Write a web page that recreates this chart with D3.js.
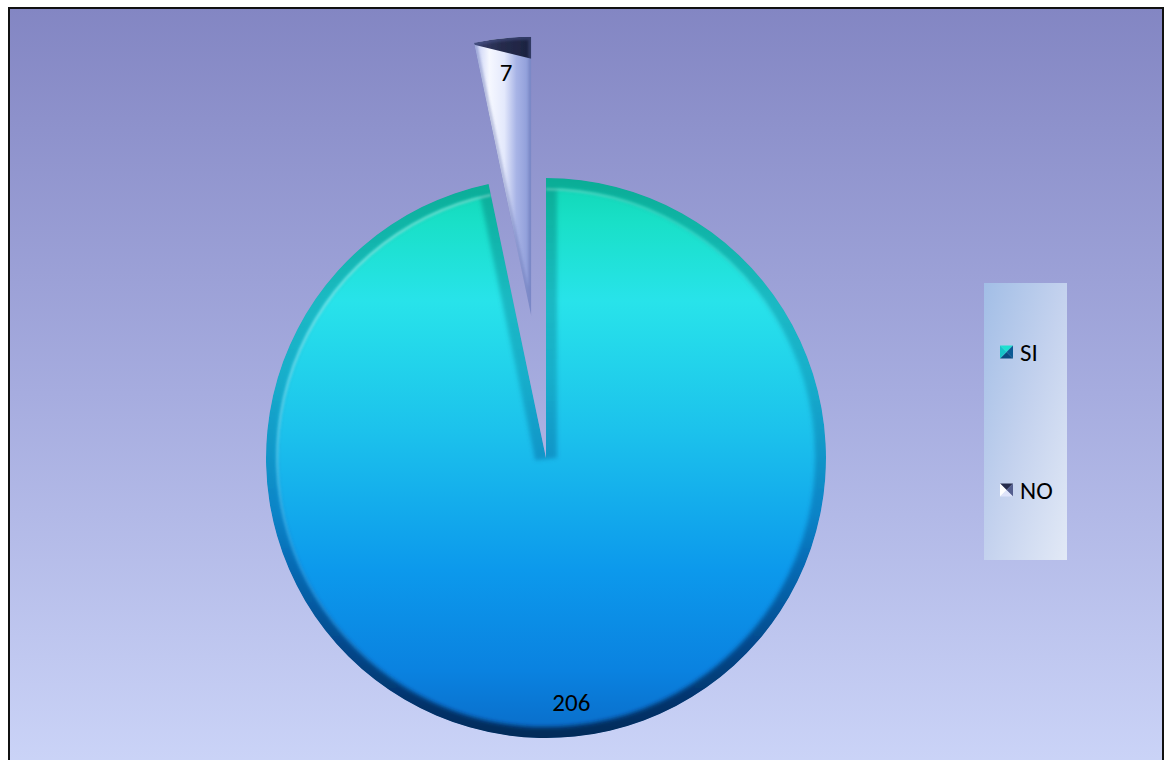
<!DOCTYPE html>
<html>
<head>
<meta charset="utf-8">
<script src="https://cdn.jsdelivr.net/npm/d3@7"></script>
<style>
  html, body { margin: 0; padding: 0; background: #ffffff; }
  svg { display: block; }
</style>
</head>
<body>
<script>
// Survey answers
const categories = ["SI", "NO"];
const values = [206, 7];
const explodedCategory = "NO";

const W = 1169, H = 760;
const cx = 546, cy = 458, R = 280, explodeDist = 142, bevel = 11;
const fontFamily = "Carlito, Lato, 'Open Sans', sans-serif";

const svg = d3.select("body").append("svg")
  .attr("width", W).attr("height", H);
const defs = svg.append("defs");

// ---- gradients & filters ----
function linGrad(id, x1, y1, x2, y2, stops, units) {
  const g = defs.append("linearGradient").attr("id", id)
    .attr("x1", x1).attr("y1", y1).attr("x2", x2).attr("y2", y2);
  if (units) g.attr("gradientUnits", units);
  stops.forEach(([o, c, a]) => g.append("stop").attr("offset", o)
    .attr("stop-color", c).attr("stop-opacity", a == null ? 1 : a));
  return g;
}

linGrad("bgGrad", 0, 0, 0, 1, [[0, "#8386c3"], [0.5, "#a6acdf"], [1, "#ccd5f8"]]);
linGrad("legendGrad", 0, 0, 1, 1, [[0, "#a2bee6"], [0.5, "#c4d2ee"], [1, "#e2e9f6"]]);

// slice gradients are given in slice-local coordinates (origin = slice vertex)
linGrad("siGrad", 0, -R, 0, R, [
  [0, "#10d6b4"], [0.08, "#19e0c8"], [0.22, "#28e3ea"], [0.45, "#1cc2ec"],
  [0.7, "#0c99ec"], [0.88, "#0a82e0"], [1, "#0a6cc8"]
], "userSpaceOnUse");
linGrad("siBevel", 0, -R, 0, R, [
  [0, "#007068", 0.4], [0.35, "#006080", 0.3], [0.6, "#004a90", 0.4],
  [0.85, "#002a60", 0.7], [1, "#001c44", 0.85]
], "userSpaceOnUse");
linGrad("siHighlight", -R, -R, R * 0.1, R * 0.3, [
  [0, "#ffffff", 0.5], [0.6, "#ffffff", 0.12], [1, "#ffffff", 0]
], "userSpaceOnUse");

// exploded slice: pale wedge with a dark outer face
linGrad("noGrad", -60, 0, 0, 0, [
  [0, "#b6c0f0"], [0.3, "#f6f8ff"], [0.55, "#e4e9fc"], [0.75, "#a8b4e6"], [1, "#8a98d6"]
], "userSpaceOnUse");
linGrad("noTop", -60, 0, 0, 0, [
  [0, "#3a4270"], [0.5, "#262c4c"], [1, "#1c2240"]
], "userSpaceOnUse");

function blurFilter(id, sd) {
  defs.append("filter").attr("id", id)
    .attr("x", "-10%").attr("y", "-10%").attr("width", "120%").attr("height", "120%")
    .append("feGaussianBlur").attr("stdDeviation", sd);
}
blurFilter("soft", 2.2);
blurFilter("soft1", 1.2);
blurFilter("soft05", 0.6);

// ---- chart area ----
svg.append("rect")
  .attr("x", 9).attr("y", 8).attr("width", 1154).attr("height", 770)
  .attr("fill", "url(#bgGrad)")
  .attr("stroke", "#111").attr("stroke-width", 2);

// ---- pie ----
const data = categories.map((c, i) => ({ category: c, value: values[i] }));
const pie = d3.pie().sort(null).value(d => d.value);
const arcs = pie(data);
const arc = d3.arc().innerRadius(0).outerRadius(R);
const labelArc = d3.arc().innerRadius(R - 34).outerRadius(R - 34);
const polar = (ang, r) => [Math.sin(ang) * r, -Math.cos(ang) * r];

arcs.forEach((a, i) => {
  const isExploded = a.data.category === explodedCategory;
  const mid = (a.startAngle + a.endAngle) / 2;
  const ox = cx + (isExploded ? Math.sin(mid) * explodeDist : 0);
  const oy = cy + (isExploded ? -Math.cos(mid) * explodeDist : 0);
  const d = arc(a);

  defs.append("clipPath").attr("id", "clip" + i).append("path").attr("d", d);

  const g = svg.append("g").attr("class", "slice")
    .attr("transform", `translate(${ox},${oy})`);
  const body = g.append("g").attr("clip-path", `url(#clip${i})`);

  if (!isExploded) {
    body.append("path").attr("d", d).attr("fill", "url(#siGrad)");
    // bevel: darkened band along all edges
    body.append("path").attr("d", d)
      .attr("fill", "none").attr("stroke", "url(#siBevel)")
      .attr("stroke-width", bevel * 2).attr("filter", "url(#soft)");
    // thin light ridge just inside the bevel
    body.append("path")
      .attr("d", d3.arc().innerRadius(R - bevel - 1.5).outerRadius(R - bevel + 1)(a))
      .attr("fill", "url(#siHighlight)").attr("filter", "url(#soft1)");
  } else {
    body.append("path").attr("d", d).attr("fill", "url(#noGrad)");
    // dark outer face: thin at the leading edge, deeper at the trailing edge
    const [x0, y0] = polar(a.startAngle, R);
    const [x1, y1] = polar(a.endAngle, R);
    const [x2, y2] = polar(a.endAngle, R - 22);
    const [x3, y3] = polar(a.startAngle, R - 2);
    const face = d3.path();
    face.moveTo(x0, y0);
    face.arc(0, 0, R, a.startAngle - Math.PI / 2, a.endAngle - Math.PI / 2);
    face.lineTo(x2, y2);
    face.lineTo(x3, y3);
    face.closePath();
    body.append("path").attr("d", face.toString())
      .attr("fill", "url(#noTop)").attr("filter", "url(#soft05)");
    body.append("path").attr("d", d).attr("fill", "none")
      .attr("stroke", "#5a66a8").attr("stroke-opacity", 0.35)
      .attr("stroke-width", 6).attr("filter", "url(#soft1)");
  }

  const [lx, ly] = labelArc.centroid(a);
  g.append("text")
    .attr("x", lx).attr("y", ly)
    .attr("text-anchor", "middle").attr("dominant-baseline", "central")
    .attr("font-family", fontFamily).attr("font-size", 25)
    .attr("fill", "#000").text(a.data.value);
});

// ---- legend ----
const legend = svg.append("g").attr("transform", "translate(984,283)");
legend.append("rect").attr("width", 83).attr("height", 277).attr("fill", "url(#legendGrad)");

const legendY = d3.scalePoint().domain(categories).range([69, 207]);
const m = 13; // marker size
const markerColors = {
  SI: { top: "#1ee0d0", left: "#16c4c8", right: "#0c5a94", bottom: "#0a4a80" },
  NO: { top: "#262c4c", right: "#545e8e", bottom: "#dfe4fa", left: "#ffffff" }
};
categories.forEach(c => {
  const item = legend.append("g").attr("transform", `translate(16,${legendY(c) - m / 2})`);
  const col = markerColors[c];
  const h = m / 2;
  item.append("path").attr("d", `M0,0 L${m},0 L${h},${h} Z`).attr("fill", col.top);
  item.append("path").attr("d", `M${m},0 L${m},${m} L${h},${h} Z`).attr("fill", col.right);
  item.append("path").attr("d", `M0,${m} L${m},${m} L${h},${h} Z`).attr("fill", col.bottom);
  item.append("path").attr("d", `M0,0 L0,${m} L${h},${h} Z`).attr("fill", col.left);
  legend.append("text")
    .attr("x", 36).attr("y", legendY(c))
    .attr("dominant-baseline", "central")
    .attr("font-family", fontFamily).attr("font-size", 25)
    .attr("fill", "#000").text(c);
});
</script>
</body>
</html>
